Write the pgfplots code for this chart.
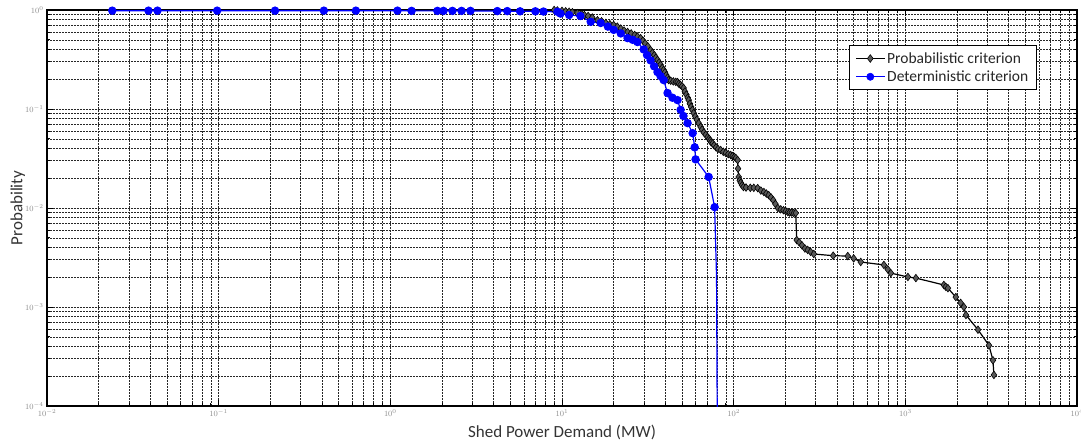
\documentclass[border=0pt]{standalone}
\usepackage{pgfplots}
\pgfplotsset{compat=1.18}
\usepackage{fontspec}
\setmainfont{Carlito}
\begin{document}
\begin{tikzpicture}
\begin{axis}[
  scale only axis,
  width=1030pt, height=396pt,
  xmode=log, ymode=log,
  xmin=0.01, xmax=10000, ymin=1e-4, ymax=1,
  xtick={0.01,0.1,1,10,100,1000,10000},
  ytick={1e-4,1e-3,1e-2,1e-1,1},
  grid=both,
  major grid style={dash pattern=on 1.6pt off 1.4pt, black!85, line width=0.6pt},
  minor grid style={dash pattern=on 1.6pt off 1.4pt, black!85, line width=0.6pt},
  tick align=inside,
  major tick length=6pt, minor tick length=3.5pt,
  tick style={black, line width=0.8pt},
  axis line style={black, line width=1.2pt},
  ticklabel style={font=\fontsize{8}{8}\selectfont, text=black!45},
  xlabel={Shed Power Demand (MW)},
  ylabel={Probability},
  xlabel style={font=\fontsize{17}{17}\selectfont, text=black!80, at={(axis description cs:0.5,-0.0657)}, anchor=center},
  ylabel style={font=\fontsize{17}{17}\selectfont, text=black!80, at={(axis description cs:-0.0282,0.5)}, anchor=center},
  legend style={at={(0.961,0.912)}, anchor=north east, draw=black, line width=1.1pt,
    font=\fontsize{15.5}{17}\selectfont, text=black!85, inner xsep=6pt, inner ysep=5pt,
    row sep=2pt, fill=white},
  legend cell align=left,
  legend image code/.code={\draw[#1, line width=1.4pt] (0cm,0cm) -- (1.0cm,0cm);
     \draw[#1, line width=0.6pt] plot coordinates {(0.5cm,0cm)};},
]
\addplot[black, line width=1.2pt, mark=diamond*, mark size=3.8pt,
  mark options={fill=black!65, draw=black, line width=0.6pt}] coordinates {
(9.0,1.0) (9.4,0.99) (10,0.98) (10.5,0.97) (11,0.96) (11.5,0.95) (12.3,0.93) (13,0.91) (13.5,0.89) (14.2,0.87) (15,0.84)
(16.1,0.79) (17,0.77) (18,0.74) (19,0.72) (20.0,0.706) (21,0.68) (22,0.65) (23,0.62) (24.1,0.60) (25.3,0.58) (26.5,0.56) (27.5,0.54) (28.7,0.52)
(29.6,0.49) (30.5,0.46) (31.6,0.43) (32.8,0.394) (33.6,0.37) (34.5,0.35) (35.2,0.33) (36.0,0.313) (36.8,0.295) (37.5,0.28) (38.3,0.26) (39.1,0.248)
(39.8,0.235) (40.5,0.22) (41.2,0.208) (41.8,0.196) (43,0.193) (44.5,0.19) (46,0.188) (47.1,0.187) (48,0.18) (49,0.175) (50,0.17) (51.1,0.163)
(52,0.15) (53,0.14) (54,0.13) (54.7,0.123) (55.6,0.113) (56.5,0.105) (57.5,0.098) (58.5,0.091) (59.8,0.084) (61,0.078) (62.5,0.072) (64.2,0.066)
(65.5,0.062) (67,0.058) (68.8,0.055) (70.5,0.052) (72,0.05) (73,0.048) (74,0.046) (75.4,0.045) (77,0.043) (79,0.041) (81,0.0395) (84.0,0.0385)
(87,0.037) (90,0.036) (93,0.035) (96.1,0.0343) (98.5,0.0335) (101,0.0328) (103,0.032) (105.5,0.0305) (106,0.025) (107,0.0206)
(108.5,0.019) (110,0.018) (112,0.017) (114,0.0163) (118,0.0161) (125,0.016) (131,0.016) (138,0.0159) (144,0.015) (150,0.0145) (155,0.014) (160,0.0135)
(165,0.0128) (170,0.012) (175,0.011) (181,0.0100) (188,0.0097) (195,0.0095) (201,0.0093) (207,0.0091) (212,0.009) (218,0.009) (224,0.0089) (230,0.0089)
(233,0.00475) (241,0.0045) (250,0.0042) (260,0.0039) (270,0.00377) (281,0.0036) (293,0.00343) (380,0.0033)
(462,0.00327) (500,0.0031) (550,0.00285) (750,0.00266) (790,0.0024) (823,0.0022) (1035,0.00201)
(1152,0.00196) (1676,0.00167) (1720,0.0016) (1770,0.00155) (1969,0.00126) (2100,0.0011) (2193,0.001)
(2254,0.00083) (2649,0.00059) (3070,0.00041) (3238,0.00029) (3281,0.000206)
};
\addlegendentry{Probabilistic criterion}
\addplot[blue, line width=1.2pt, mark=*, mark size=3.6pt,
  mark options={fill=blue, draw=blue}] coordinates {
(0.024,0.985) (0.039,0.985) (0.044,0.985) (0.098,0.985) (0.213,0.985)
(0.41,0.985) (0.63,0.985) (1.1,0.985) (1.33,0.98) (1.88,0.98) (2.04,0.98)
(2.3,0.98) (2.6,0.98) (2.93,0.98) (4.2,0.975) (4.8,0.975) (5.7,0.97)
(7.0,0.97) (7.8,0.965) (9.4,0.96) (9.8,0.92) (11,0.89) (12.8,0.87)
(14.7,0.76) (16.8,0.74) (18.5,0.68) (20.0,0.63) (22,0.58) (24.1,0.52) (25.8,0.5) (27.5,0.475)
(29.9,0.40) (31.3,0.35) (32.8,0.31) (34.4,0.27) (36.0,0.236) (37.5,0.215) (39.1,0.196) (41.2,0.145) (44,0.13)
(47.1,0.123) (49.1,0.098) (51,0.085) (53.9,0.072) (57.7,0.057) (59.3,0.041)
(60.0,0.031) (71.5,0.0206) (77.5,0.0102)
};
\addlegendentry{Deterministic criterion}
\addplot[blue, line width=1.2pt, no marks, forget plot] coordinates {
(77.5,0.0102) (79.5,0.002) (80.7,0.00001)
};
\end{axis}
\pgfresetboundingbox
\path (-47pt,-36pt) rectangle (1034pt,406pt);
\end{tikzpicture}
\end{document}
